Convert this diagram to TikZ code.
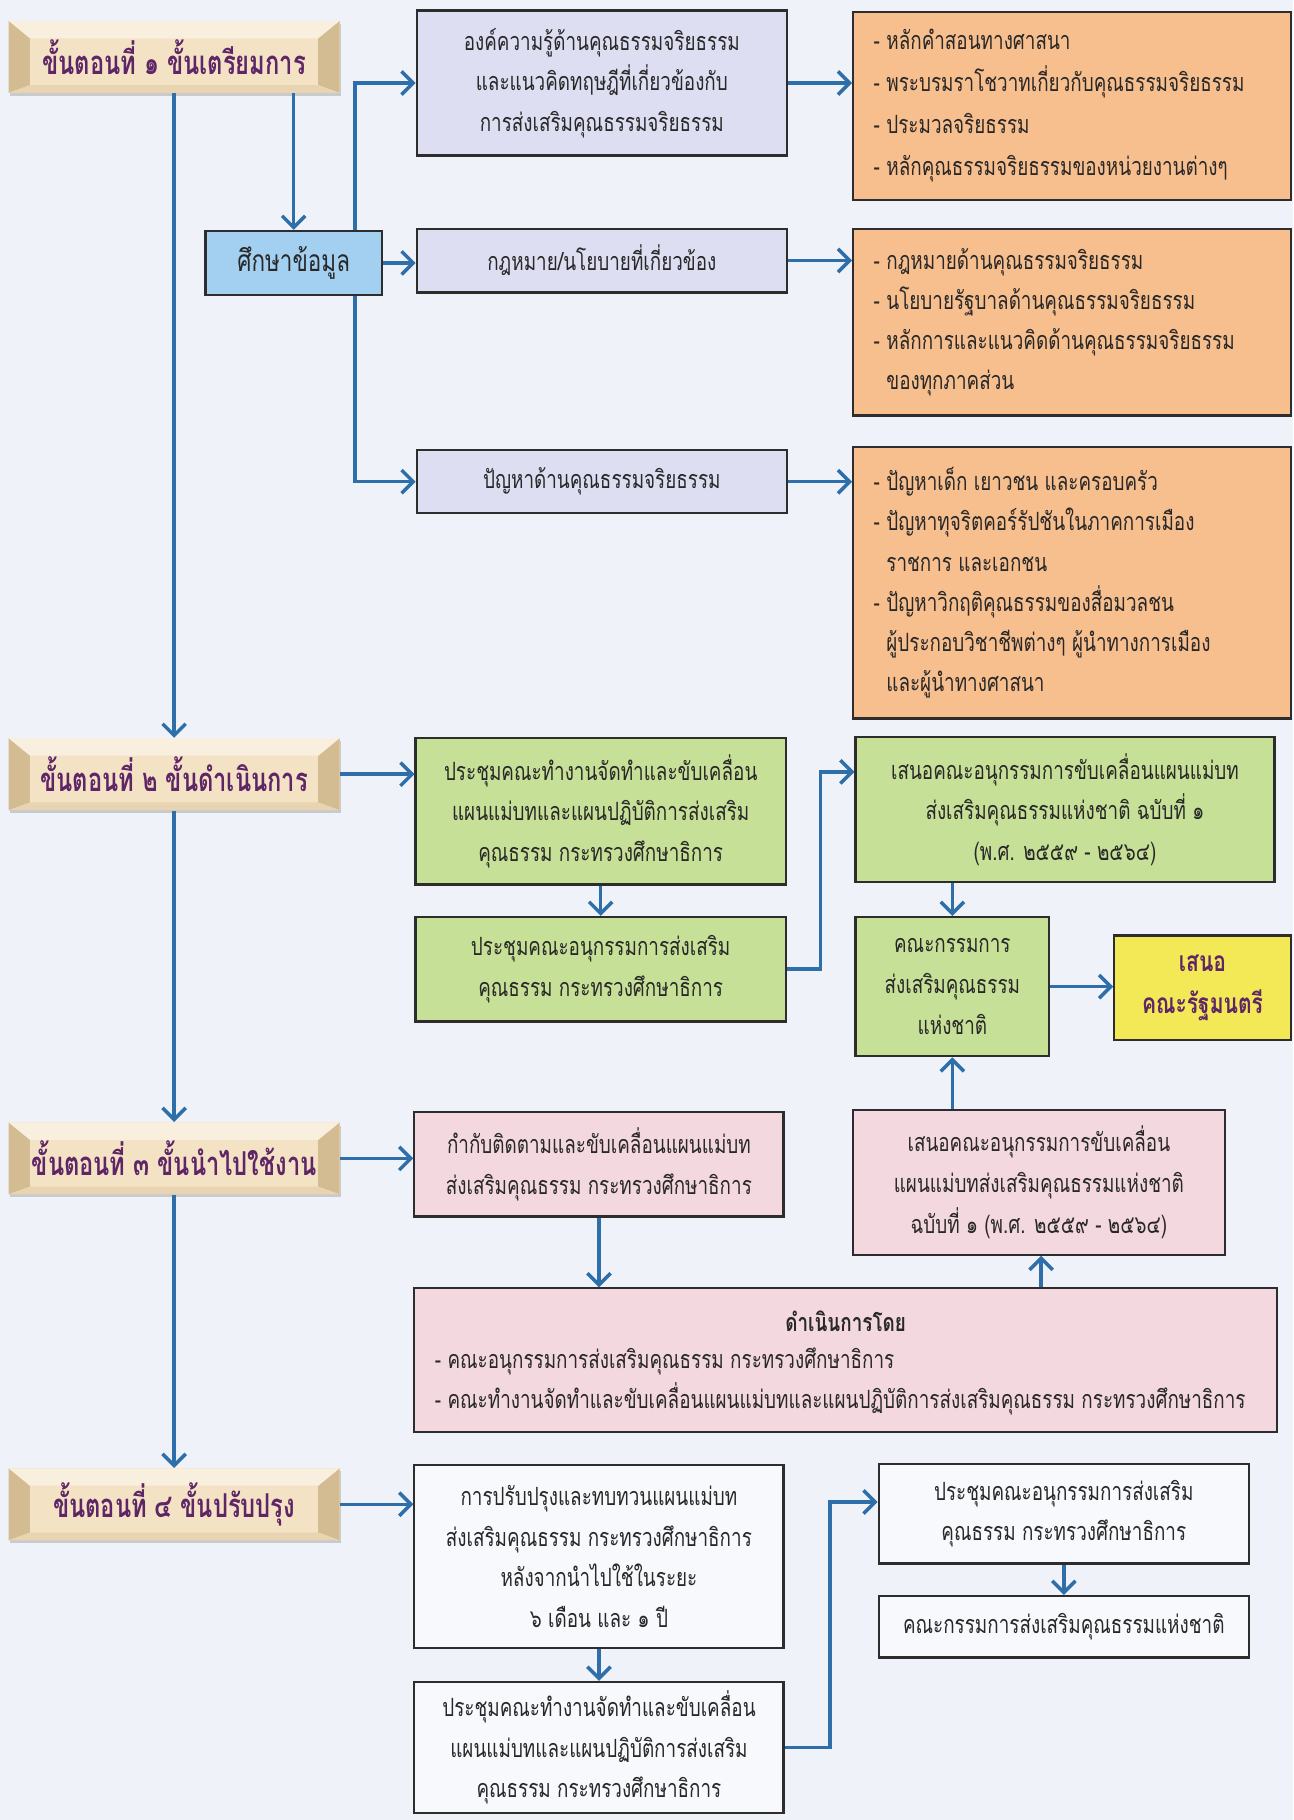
\documentclass[tikz,border=0pt]{standalone}
\usepackage{fontspec}
\newfontfamily\thai[Script=Thai,FakeStretch=0.75]{Loma}
\newfontfamily\thaibn[Script=Thai,FakeStretch=0.72]{Loma}
\usetikzlibrary{arrows.meta,shadows,calc}
\definecolor{bgc}{RGB}{239,243,249}
\definecolor{lavc}{RGB}{221,222,241}
\definecolor{orgc}{RGB}{247,190,142}
\definecolor{skyc}{RGB}{163,208,241}
\definecolor{grnc}{RGB}{199,224,151}
\definecolor{ylwc}{RGB}{243,232,86}
\definecolor{pnkc}{RGB}{244,216,223}
\definecolor{whtc}{RGB}{247,249,252}
\definecolor{arrc}{RGB}{46,111,170}
\definecolor{beigec}{RGB}{244,226,196}
\definecolor{beigeD}{RGB}{212,188,146}
\definecolor{beigeL}{RGB}{249,239,222}
\definecolor{beigeB}{RGB}{232,212,176}
\definecolor{purpc}{RGB}{94,38,102}
\definecolor{edgec}{RGB}{45,45,45}
\definecolor{txtc}{RGB}{40,40,40}
\tikzset{
  bx/.style={draw=edgec,line width=1.1pt,inner sep=0pt,align=center,text=txtc,font=\thai\fontsize{13}{21}\selectfont},
  lav/.style={bx,fill=lavc},
  org/.style={bx,fill=orgc},
  sky/.style={bx,fill=skyc,font=\thai\fontsize{15.5}{21}\selectfont},
  grn/.style={bx,fill=grnc},
  ylw/.style={bx,fill=ylwc,text=purpc,font=\thai\bfseries\fontsize{14.5}{22}\selectfont},
  pnk/.style={bx,fill=pnkc},
  wht/.style={bx,fill=whtc},
  lst/.style={inner sep=0pt,align=left,anchor=west,text=txtc,font=\thai\fontsize{13}{20.7}\selectfont},
  stage/.style={fill=beigec,inner sep=0pt,minimum width=171pt,minimum height=37.2pt,text=purpc,
    font=\thaibn\bfseries\fontsize{17}{20}\selectfont,
    drop shadow={opacity=0.35,shadow xshift=0.6pt,shadow yshift=-1.6pt},
    path picture={
      \fill[beigeD] (path picture bounding box.north west) -- ([xshift=11pt,yshift=-9pt]path picture bounding box.north west) -- ([xshift=11pt,yshift=4pt]path picture bounding box.south west) -- (path picture bounding box.south west) -- cycle;
      \fill[beigeD] (path picture bounding box.north east) -- ([xshift=-11pt,yshift=-9pt]path picture bounding box.north east) -- ([xshift=-11pt,yshift=4pt]path picture bounding box.south east) -- (path picture bounding box.south east) -- cycle;
      \fill[beigeL] (path picture bounding box.north west) -- ([xshift=11pt,yshift=-9pt]path picture bounding box.north west) -- ([xshift=-11pt,yshift=-9pt]path picture bounding box.north east) -- (path picture bounding box.north east) -- cycle;
      \fill[beigeB] (path picture bounding box.south west) -- ([xshift=11pt,yshift=4pt]path picture bounding box.south west) -- ([xshift=-11pt,yshift=4pt]path picture bounding box.south east) -- (path picture bounding box.south east) -- cycle;
    }},
  con/.style={draw=arrc,line width=1.8pt},
  arr/.style={con,-{Straight Barb[length=6pt,width=12pt]}},
}
\newcommand\pbox[7]{\node[#2,minimum width={(#5-#3)*0.6pt},minimum height={(#6-#4)*0.6pt}] (#1) at ({(#3+#5)/2},{(#4+#6)/2}) {#7};}
\begin{document}
\begin{tikzpicture}[x=0.6pt,y=-0.6pt]
\useasboundingbox (0,0) rectangle (1114,1568);
\fill[bgc] (0,0) rectangle (1114,1568);

% stages
\node[stage] (s1) at (150,49) {ขั้นตอนที่ ๑ ขั้นเตรียมการ};
\node[stage] (s2) at (150,667) {ขั้นตอนที่ ๒ ขั้นดำเนินการ};
\node[stage] (s3) at (150,998) {ขั้นตอนที่ ๓ ขั้นนำไปใช้งาน};
\node[stage] (s4) at (150,1296) {ขั้นตอนที่ ๔ ขั้นปรับปรุง};

% stage 1
\pbox{study}{sky}{177}{199}{329}{254}{ศึกษาข้อมูล}
\pbox{k1}{lav}{359}{9}{678}{134}{องค์ความรู้ด้านคุณธรรมจริยธรรม\\และแนวคิดทฤษฎีที่เกี่ยวข้องกับ\\การส่งเสริมคุณธรรมจริยธรรม}
\pbox{k2}{lav}{359}{197}{678}{252}{กฎหมาย/นโยบายที่เกี่ยวข้อง}
\pbox{k3}{lav}{359}{388}{678}{442}{ปัญหาด้านคุณธรรมจริยธรรม}
\pbox{o1}{org}{735}{10}{1112}{172}{}
\pbox{o2}{org}{735}{197}{1112}{358}{}
\pbox{o3}{org}{735}{385}{1112}{619}{}
\node[lst,font=\thai\fontsize{13}{21.8}\selectfont] (o1t) at ([xshift=11pt]o1.west) {- หลักคำสอนทางศาสนา\\- พระบรมราโชวาทเกี่ยวกับคุณธรรมจริยธรรม\\- ประมวลจริยธรรม\\- หลักคุณธรรมจริยธรรมของหน่วยงานต่างๆ};
\node[lst] (o2t) at ([xshift=11pt]o2.west) {- กฎหมายด้านคุณธรรมจริยธรรม\\- นโยบายรัฐบาลด้านคุณธรรมจริยธรรม\\- หลักการและแนวคิดด้านคุณธรรมจริยธรรม\\\hphantom{- }ของทุกภาคส่วน};
\node[lst] (o3t) at ([xshift=11pt]o3.west) {- ปัญหาเด็ก เยาวชน และครอบครัว\\- ปัญหาทุจริตคอร์รัปชันในภาคการเมือง\\\hphantom{- }ราชการ และเอกชน\\- ปัญหาวิกฤติคุณธรรมของสื่อมวลชน\\\hphantom{- }ผู้ประกอบวิชาชีพต่างๆ ผู้นำทางการเมือง\\\hphantom{- }และผู้นำทางศาสนา};

% stage 2
\pbox{g1}{grn}{358}{636}{677}{762}{ประชุมคณะทำงานจัดทำและขับเคลื่อน\\แผนแม่บทและแผนปฏิบัติการส่งเสริม\\คุณธรรม กระทรวงศึกษาธิการ}
\pbox{g2}{grn}{358}{790}{677}{880}{ประชุมคณะอนุกรรมการส่งเสริม\\คุณธรรม กระทรวงศึกษาธิการ}
\pbox{g3}{grn}{737}{635}{1098}{760}{เสนอคณะอนุกรรมการขับเคลื่อนแผนแม่บท\\ส่งเสริมคุณธรรมแห่งชาติ ฉบับที่ ๑\\(พ.ศ. ๒๕๕๙ - ๒๕๖๔)}
\pbox{g4}{grn}{737}{790}{904}{910}{คณะกรรมการ\\ส่งเสริมคุณธรรม\\แห่งชาติ}
\pbox{yl}{ylw}{960}{806}{1112}{896}{เสนอ\\คณะรัฐมนตรี}

% stage 3
\pbox{p1}{pnk}{357}{958}{675}{1048}{กำกับติดตามและขับเคลื่อนแผนแม่บท\\ส่งเสริมคุณธรรม กระทรวงศึกษาธิการ}
\pbox{p2}{pnk}{735}{956}{1055}{1081}{เสนอคณะอนุกรรมการขับเคลื่อน\\แผนแม่บทส่งเสริมคุณธรรมแห่งชาติ\\ฉบับที่ ๑ (พ.ศ. ๒๕๕๙ - ๒๕๖๔)}
\pbox{p3}{pnk}{357}{1110}{1100}{1234}{}
\node[lst,anchor=center,font=\thai\bfseries\fontsize{13}{20.7}\selectfont] (p3h) at ([yshift=-17.4pt]p3.north) {ดำเนินการโดย};
\node[lst] (p3t) at ([xshift=11pt,yshift=-11pt]p3.west) {- คณะอนุกรรมการส่งเสริมคุณธรรม กระทรวงศึกษาธิการ\\- คณะทำงานจัดทำและขับเคลื่อนแผนแม่บทและแผนปฏิบัติการส่งเสริมคุณธรรม กระทรวงศึกษาธิการ};

% stage 4
\pbox{w1}{wht}{357}{1262}{675}{1420}{การปรับปรุงและทบทวนแผนแม่บท\\ส่งเสริมคุณธรรม กระทรวงศึกษาธิการ\\หลังจากนำไปใช้ในระยะ\\๖ เดือน และ ๑ ปี}
\pbox{w2}{wht}{357}{1449}{675}{1562}{ประชุมคณะทำงานจัดทำและขับเคลื่อน\\แผนแม่บทและแผนปฏิบัติการส่งเสริม\\คุณธรรม กระทรวงศึกษาธิการ}
\pbox{w3}{wht}{757}{1261}{1076}{1347}{ประชุมคณะอนุกรรมการส่งเสริม\\คุณธรรม กระทรวงศึกษาธิการ}
\pbox{w4}{wht}{757}{1375}{1076}{1428}{คณะกรรมการส่งเสริมคุณธรรมแห่งชาติ}

% helper coordinates
\coordinate (br) at (306,226);
\coordinate (c1) at (707,665);
\coordinate (c2) at (897,1095);
\coordinate (c3) at (715,1294);

% connectors
\draw[arr] (s1.south) -- (s2.north);
\draw[arr] (s2.south) -- (s3.north);
\draw[arr] (s3.south) -- (s4.north);
\draw[arr] (s1.south -| study.north) -- (study.north);
\draw[arr] (study.east) -- (study.east -| k2.west);
\draw[arr] (study.north -| br) |- (k1.west);
\draw[arr] (study.south -| br) |- (k3.west);
\draw[arr] (k1.east) -- (k1.east -| o1.west);
\draw[arr] (k2.east) -- (k2.east -| o2.west);
\draw[arr] (k3.east) -- (k3.east -| o3.west);
\draw[arr] (s2.east) -- (s2.east -| g1.west);
\draw[arr] (g1.south) -- (g2.north);
\draw[arr] (g2.east) -| (c1) -- (c1 -| g3.west);
\draw[arr] (g3.south -| g4.north) -- (g4.north);
\draw[arr] (g4.east) -- (g4.east -| yl.west);
\draw[arr] (s3.east) -- (s3.east -| p1.west);
\draw[arr] (p1.south) -- (p1.south |- p3.north);
\draw[arr] (p3.north -| c2) -- (p2.south -| c2);
\draw[arr] (p2.north -| g4.south) -- (g4.south);
\draw[arr] (s4.east) -- (s4.east -| w1.west);
\draw[arr] (w1.south) -- (w2.north);
\draw[arr] (w2.east) -| (c3) -- (c3 -| w3.west);
\draw[arr] (w3.south) -- (w4.north);
\end{tikzpicture}
\end{document}
